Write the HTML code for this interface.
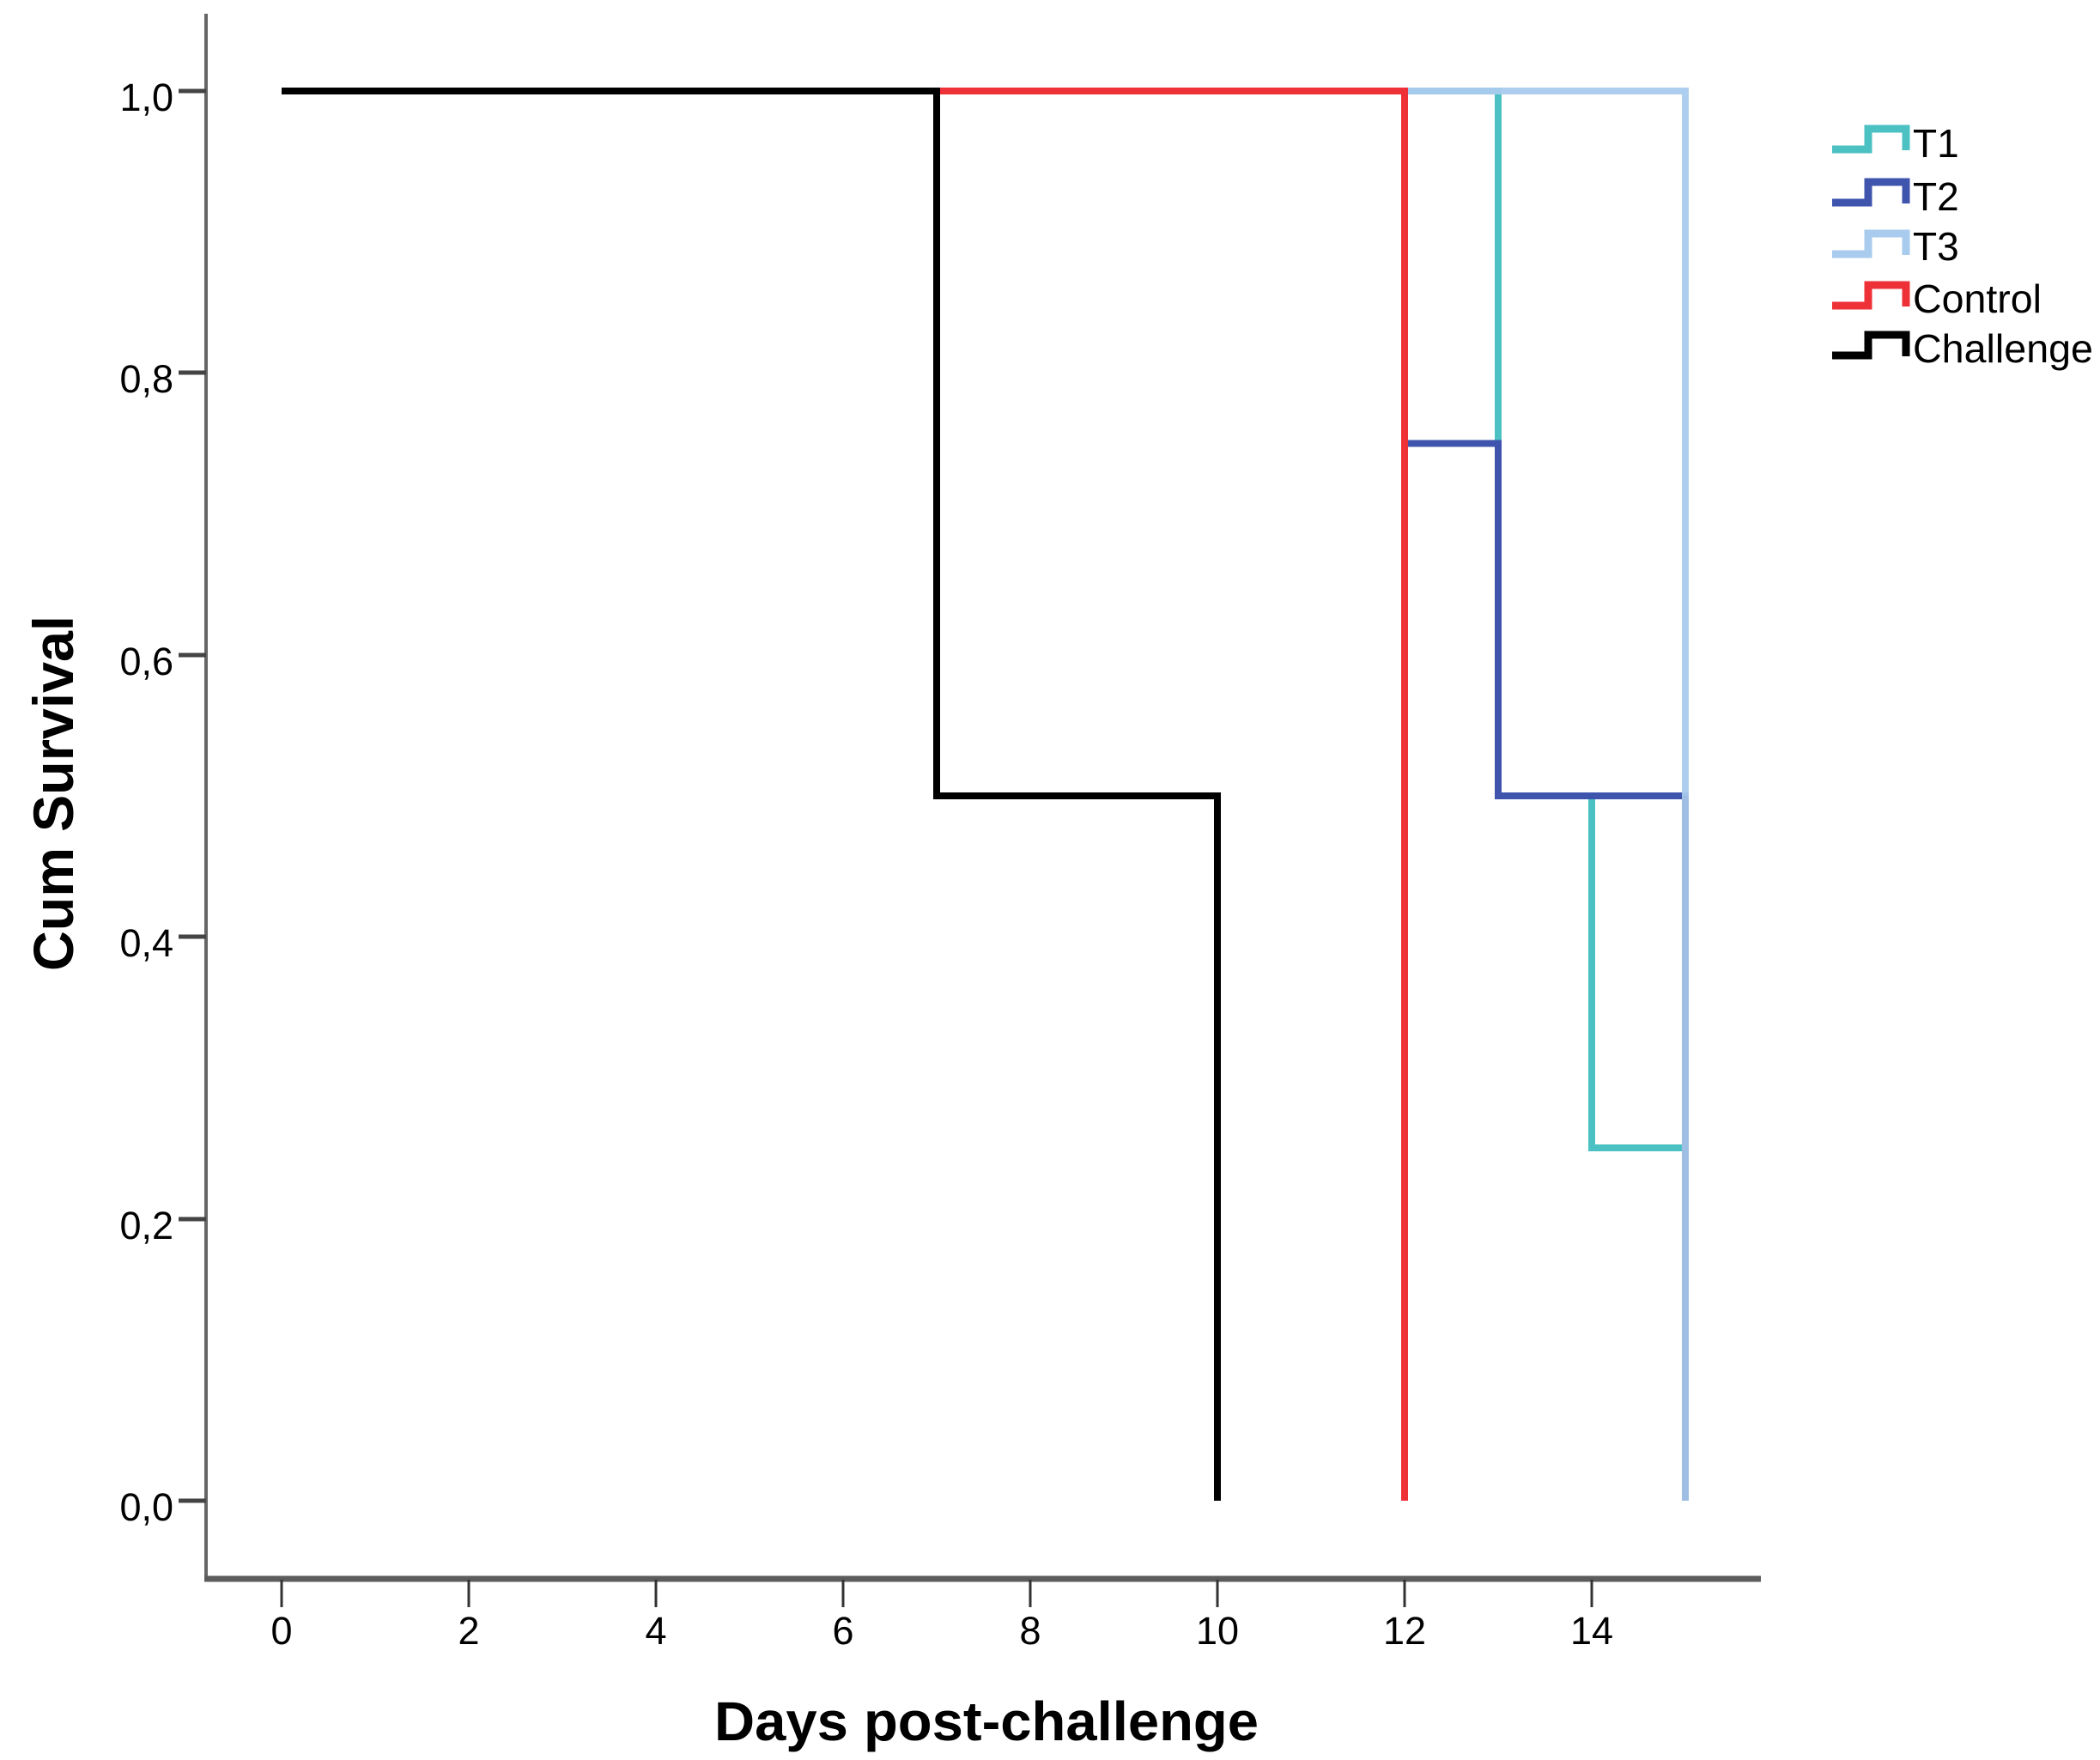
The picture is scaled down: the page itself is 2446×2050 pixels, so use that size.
<!DOCTYPE html>
<html><head><meta charset="utf-8"><style>
html,body{margin:0;padding:0;background:#fff;}
svg{display:block;}
text{font-family:"Liberation Sans",sans-serif;fill:#000;}
</style></head><body>
<svg width="2446" height="2050" viewBox="0 0 2446 2050" xmlns="http://www.w3.org/2000/svg">
<rect width="2446" height="2050" fill="#fff"/>
<line x1="240" y1="16" x2="240" y2="1840" stroke="#666" stroke-width="4"/>
<line x1="238" y1="1839" x2="2051" y2="1839" stroke="#5c5c5c" stroke-width="7"/>
<g stroke="#444" stroke-width="5">
<line x1="208" y1="106" x2="240" y2="106"/>
<line x1="208" y1="434" x2="240" y2="434"/>
<line x1="208" y1="763" x2="240" y2="763"/>
<line x1="208" y1="1091" x2="240" y2="1091"/>
<line x1="208" y1="1420" x2="240" y2="1420"/>
<line x1="208" y1="1748" x2="240" y2="1748"/>
</g>
<g font-size="45" text-anchor="end">
<text x="202" y="129">1,0</text>
<text x="202" y="457">0,8</text>
<text x="202" y="786">0,6</text>
<text x="202" y="1114">0,4</text>
<text x="202" y="1443">0,2</text>
<text x="202" y="1771">0,0</text>
</g>
<g stroke="#333" stroke-width="3">
<line x1="328" y1="1840" x2="328" y2="1872"/>
<line x1="546" y1="1840" x2="546" y2="1872"/>
<line x1="764" y1="1840" x2="764" y2="1872"/>
<line x1="982" y1="1840" x2="982" y2="1872"/>
<line x1="1200" y1="1840" x2="1200" y2="1872"/>
<line x1="1418" y1="1840" x2="1418" y2="1872"/>
<line x1="1636" y1="1840" x2="1636" y2="1872"/>
<line x1="1854" y1="1840" x2="1854" y2="1872"/>
</g>
<g font-size="45" text-anchor="middle">
<text x="328" y="1915">0</text>
<text x="546" y="1915">2</text>
<text x="764" y="1915">4</text>
<text x="982" y="1915">6</text>
<text x="1200" y="1915">8</text>
<text x="1418" y="1915">10</text>
<text x="1636" y="1915">12</text>
<text x="1854" y="1915">14</text>
</g>
<text x="832" y="2027" font-size="64" font-weight="bold" textLength="634" lengthAdjust="spacingAndGlyphs">Days post-challenge</text>
<text transform="translate(85,1131) rotate(-90)" font-size="66" font-weight="bold" textLength="414" lengthAdjust="spacingAndGlyphs">Cum Survival</text>
<g fill="none" stroke-width="8" stroke-linejoin="miter" stroke-linecap="butt">
<polyline stroke="#4bc1c3" points="328,106 1745,106 1745,927 1854,927 1854,1337 1963,1337 1963,1748"/>
<polyline stroke="#3f55ad" points="328,106 1636,106 1636,516.5 1745,516.5 1745,927 1963,927 1963,1748"/>
<polyline stroke="#a9cbed" stroke-opacity="0.95" points="1636,106 1963,106 1963,1748"/>
<polyline stroke="#9bb9e0" stroke-opacity="0.6" points="1963,927 1963,1748"/>
<polyline stroke="#ee3137" points="328,106 1636,106 1636,1748"/>
<polyline stroke="#000" points="328,106 1091,106 1091,927 1418,927 1418,1748"/>
</g>
<g fill="none" stroke-width="9">
<polyline stroke="#4bc1c3" points="2134,174 2176,174 2176,150 2220,150 2220,175"/>
<polyline stroke="#3f55ad" points="2134,236 2176,236 2176,212 2220,212 2220,237"/>
<polyline stroke="#a9cbed" points="2134,296 2176,296 2176,272 2220,272 2220,297"/>
<polyline stroke="#ee3137" points="2134,356 2176,356 2176,332 2220,332 2220,357"/>
<polyline stroke="#000" points="2134,414 2176,414 2176,390 2220,390 2220,415"/>
</g>
<g font-size="46">
<text x="2228" y="183">T1</text>
<text x="2228" y="245">T2</text>
<text x="2228" y="303">T3</text>
<text x="2228" y="364" textLength="150" lengthAdjust="spacingAndGlyphs">Control</text>
<text x="2228" y="422" textLength="210" lengthAdjust="spacingAndGlyphs">Challenge</text>
</g>
</svg>
</body></html>
